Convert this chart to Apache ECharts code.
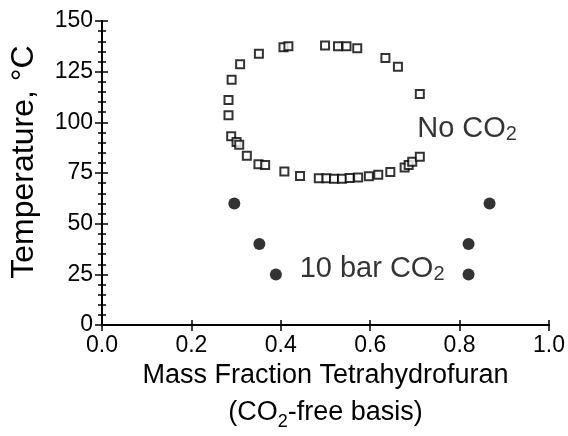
<!DOCTYPE html>
<html>
<head>
<meta charset="utf-8">
<script src="https://cdn.jsdelivr.net/npm/echarts@6/dist/echarts.min.js"></script>
<style>
html, body { margin: 0; padding: 0; background: #fff; }
#chart { width: 568px; height: 436px; }
</style>
</head>
<body>
<div id="chart"></div>
<script>
'use strict';

// 无 CO2：空心方块 (THF 质量分数, 温度 °C)
var noCo2X = [0.406, 0.417, 0.499, 0.528, 0.547, 0.571, 0.634, 0.662,
    0.351, 0.309, 0.290, 0.283, 0.283, 0.289, 0.301, 0.307, 0.324, 0.350, 0.365, 0.408, 0.443,
    0.485, 0.502, 0.519, 0.537, 0.554, 0.573, 0.597, 0.618, 0.645, 0.677, 0.686, 0.694, 0.711, 0.711];
var noCo2T = [137.1, 137.6, 137.9, 137.6, 137.6, 136.6, 131.7, 127.4,
    133.8, 128.7, 121, 111, 103.5, 93.2, 90.3, 89, 83.5, 79.3, 79, 75.8, 73.6,
    72.4, 72.4, 72.2, 72.2, 72.5, 72.8, 73.4, 74.2, 75.5, 77.7, 79, 80.6, 83, 114];

// 10 bar CO2：实心圆点
var co2X = [0.296, 0.352, 0.389, 0.867, 0.820, 0.820];
var co2T = [60, 40, 25, 60, 40, 25];

var xTickLabels = ['0.0', '0.2', '0.4', '0.6', '0.8', '1.0'];
var yTickLabels = ['0', '25', '50', '75', '100', '125', '150'];

var font = 'Arial, "Liberation Sans", sans-serif';
var black = '#000';

function zip(xs, ys) {
    return xs.map(function (x, i) { return [x, ys[i]]; });
}

var chart = echarts.init(document.getElementById('chart'));

var xBase = { type: 'value', min: 0, max: 1, interval: 0.2, splitLine: { show: false } };
var yBase = { type: 'value', min: 0, max: 150, interval: 25, splitLine: { show: false } };

var option = {
    animation: false,
    backgroundColor: '#fff',
    grid: { left: 102, right: 17, top: 21, bottom: 103, containLabel: false },
    xAxis: [
        Object.assign({}, xBase, {
            position: 'bottom',
            axisLine: { show: true, lineStyle: { color: black, width: 2 } },
            axisTick: { show: true, inside: false, length: 5, lineStyle: { color: black, width: 1.5 } },
            axisLabel: {
                color: black, fontSize: 23, fontFamily: font, margin: 9,
                formatter: function (v) { return xTickLabels[Math.round(v / 0.2)]; }
            },
            name: '{a|Mass Fraction Tetrahydrofuran}\n{a|(CO}{b|2}{a|-free basis)}',
            nameLocation: 'middle',
            nameGap: 26,
            nameTextStyle: {
                color: black, fontFamily: font,
                rich: {
                    a: { fontSize: 27, lineHeight: 37, color: black, fontFamily: font },
                    b: { fontSize: 18, lineHeight: 6, verticalAlign: 'bottom', color: black, fontFamily: font }
                }
            }
        }),
        Object.assign({}, xBase, {
            position: 'bottom',
            axisLine: { show: false },
            axisTick: { show: true, inside: true, length: 5, lineStyle: { color: black, width: 1.5 } },
            axisLabel: { show: false }
        }),
        Object.assign({}, xBase, {
            position: 'top',
            axisLine: { show: true, lineStyle: { color: black, width: 2 } },
            axisTick: { show: true, inside: true, length: 6, lineStyle: { color: black, width: 1.5 } },
            axisLabel: { show: false }
        })
    ],
    yAxis: [
        Object.assign({}, yBase, {
            position: 'left',
            axisLine: { show: true, lineStyle: { color: black, width: 2 } },
            axisTick: { show: true, inside: false, length: 5, lineStyle: { color: black, width: 1.5 } },
            axisLabel: {
                color: black, fontSize: 23, fontFamily: font, margin: 9,
                formatter: function (v) { return yTickLabels[Math.round(v / 25)]; }
            },
            name: 'Temperature, °C',
            nameLocation: 'middle',
            nameGap: 62,
            nameTextStyle: { color: black, fontSize: 32, fontFamily: font, padding: [0, 0, 0, 22] }
        }),
        Object.assign({}, yBase, {
            position: 'left',
            axisLine: { show: false },
            axisTick: { show: true, inside: true, length: 6, lineStyle: { color: black, width: 1.5 } },
            minorTick: { show: true, splitNumber: 5, length: 4, lineStyle: { color: black, width: 1.5 } },
            axisLabel: { show: false }
        }),
        Object.assign({}, yBase, {
            position: 'right',
            axisLine: { show: true, lineStyle: { color: black, width: 2 } },
            axisTick: { show: true, inside: true, length: 7, lineStyle: { color: black, width: 1.5 } },
            minorTick: { show: true, splitNumber: 5, length: 4, lineStyle: { color: black, width: 1.5 } },
            axisLabel: { show: false }
        })
    ],
    series: [{
        name: 'No CO2',
        type: 'scatter',
        symbol: 'rect',
        symbolSize: 8,
        itemStyle: { color: '#fff', borderColor: black, borderWidth: 2 },
        data: zip(noCo2X, noCo2T)
    }, {
        name: '10 bar CO2',
        type: 'scatter',
        symbol: 'circle',
        symbolSize: 12,
        itemStyle: { color: black },
        data: zip(co2X, co2T)
    }, {
        // 文字标注
        name: 'notes',
        type: 'scatter',
        symbolSize: 1,
        silent: true,
        itemStyle: { color: 'rgba(0,0,0,0)' },
        label: {
            show: true,
            position: 'right',
            distance: 0,
            formatter: function (p) { return p.data[2]; },
            rich: {
                t: { fontSize: 29, lineHeight: 32, color: black, fontFamily: font },
                s: { fontSize: 20, lineHeight: 6, verticalAlign: 'bottom', color: black, fontFamily: font }
            }
        },
        data: [
            [0.704, 96.8, '{t|No CO}{s|2}'],
            [0.441, 27.8, '{t|10 bar CO}{s|2}']
        ]
    }]
};

chart.setOption(option);
</script>
</body>
</html>
